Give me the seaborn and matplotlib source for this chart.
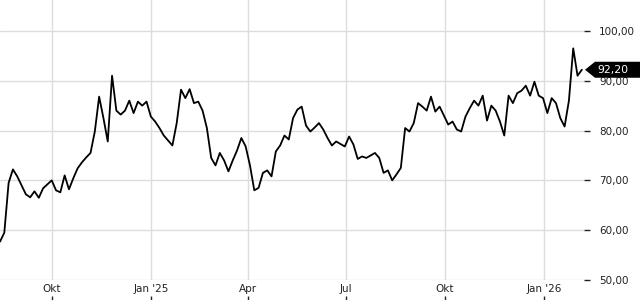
import matplotlib
matplotlib.use("Agg")
import matplotlib.pyplot as plt
from matplotlib.patches import Polygon
from matplotlib.transforms import IdentityTransform
import matplotlib.dates as mdates
import seaborn as sns
import pandas as pd

# ---- data (one value every 4 days) ----
start_date = "2024-08-14"
step = "4D"
values = [
    57.7, 59.5, 69.5, 72.2, 70.8, 69.0, 67.2, 66.6, 67.8, 66.5,
    68.4, 69.2, 70.0, 68.0, 67.6, 71.0, 68.2, 70.4, 72.4, 73.6,
    74.6, 75.5, 79.8, 86.8, 82.5, 77.8, 91.0, 84.0, 83.2, 84.0,
    86.0, 83.5, 85.8, 85.0, 85.8, 82.8, 81.8, 80.5, 79.0, 78.0,
    77.0, 81.5, 88.2, 86.5, 88.3, 85.5, 85.8, 84.0, 80.5, 74.5,
    73.0, 75.5, 74.0, 71.8, 74.0, 76.0, 78.5, 76.8, 73.0, 68.0,
    68.5, 71.5, 72.0, 70.8, 75.8, 77.0, 79.0, 78.2, 82.5, 84.2,
    84.8, 81.0, 79.8, 80.6, 81.5, 80.2, 78.5, 77.0, 77.8, 77.3,
    76.8, 78.8, 77.2, 74.3, 74.8, 74.5, 75.0, 75.5, 74.5, 71.5,
    72.0, 70.0, 71.2, 72.5, 80.5, 79.8, 81.5, 85.5, 84.8, 84.0,
    86.8, 83.8, 84.8, 83.0, 81.2, 81.8, 80.2, 79.8, 82.8, 84.5,
    86.0, 85.0, 87.0, 82.0, 85.0, 84.0, 81.8, 79.0, 87.0, 85.5,
    87.5, 88.0, 89.0, 87.0, 89.8, 87.0, 86.5, 83.5, 86.5, 85.5,
    82.5, 80.8, 86.0, 96.5, 91.0, 92.2,
]
x_tick_dates = ["2024-10-01", "2025-01-01", "2025-04-01", "2025-07-01", "2025-10-01", "2026-01-01"]
x_tick_labels = ["Okt", "Jan '25", "Apr", "Jul", "Okt", "Jan '26"]
y_ticks = [50, 60, 70, 80, 90, 100]
y_tick_labels = ["50,00", "60,00", "70,00", "80,00", "90,00", "100,00"]
last_label = "92,20"

dates = pd.date_range(start_date, periods=len(values), freq=step)
df = pd.DataFrame({"date": dates, "price": values})

sns.set_theme(style="white")
plt.rcParams["font.family"] = ["DejaVu Sans"]

fig = plt.figure(figsize=(6.4, 3.0), dpi=100)
ax = fig.add_axes([0, 20 / 300, 584 / 640, 280 / 300])

sns.lineplot(data=df, x="date", y="price", ax=ax, color="black", linewidth=1.3)

ax.set_xlim(dates[0], dates[-1] + pd.Timedelta(days=2))
ax.set_ylim(50, 106.2)

for s in ax.spines.values():
    s.set_visible(False)

ax.set_xlabel("")
ax.set_ylabel("")
ax.grid(True, color="#dcdcdc", linewidth=1)

xt = [mdates.date2num(pd.Timestamp(d)) for d in x_tick_dates]
ax.set_xticks(xt)
ax.set_xticklabels(x_tick_labels)
ax.tick_params(axis="x", length=0, pad=3, labelsize=7.5, labelcolor="#222222")

ax.yaxis.tick_right()
ax.set_yticks(y_ticks)
ax.set_yticklabels(y_tick_labels)
ax.tick_params(axis="y", right=True, length=4, width=1, color="#222222", pad=7,
               labelsize=7.5, labelcolor="#222222", direction="out")

# tick marks below the month labels
sec = ax.secondary_xaxis(-0.058)
sec.set_xticks(xt)
sec.set_xticklabels([""] * len(xt))
sec.tick_params(length=3, width=1, color="#222222", direction="out")
for s in sec.spines.values():
    s.set_visible(False)

# last-value flag
fig.canvas.draw()
tx, ty = ax.transData.transform((ax.get_xlim()[1], values[-1]))
W = fig.bbox.width
h = 8.0
poly = Polygon([(tx + 1, ty), (tx + 11, ty + h), (W, ty + h), (W, ty - h), (tx + 11, ty - h)],
               closed=True, facecolor="black", edgecolor="none", transform=IdentityTransform(), zorder=10)
fig.add_artist(poly)
fig.text((tx + 13) / W, ty / fig.bbox.height, last_label, color="white", fontsize=7.8,
         ha="left", va="center", zorder=11)

fig.savefig("out.png", dpi=100)
